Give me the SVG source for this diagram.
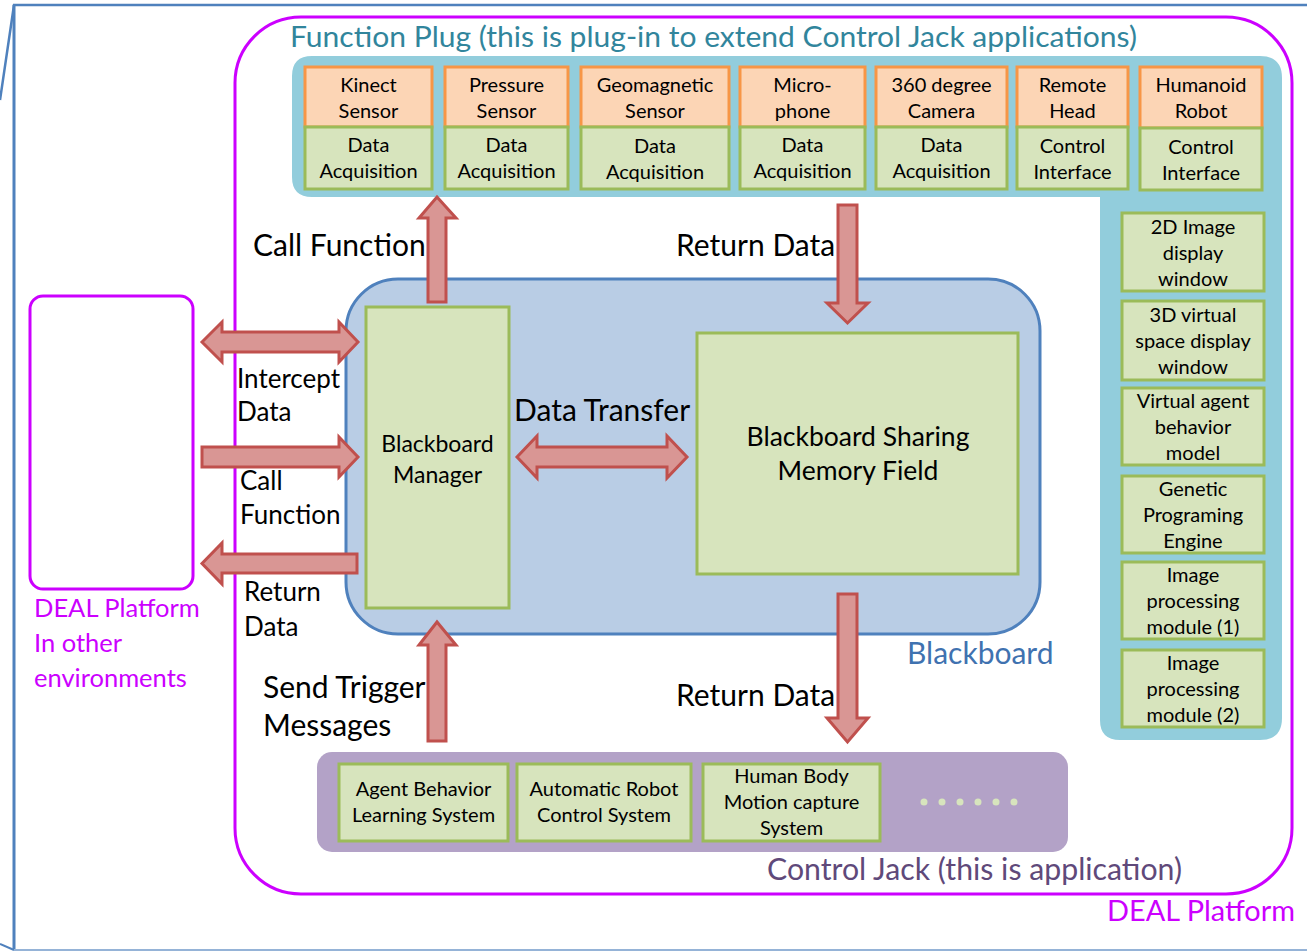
<svg xmlns="http://www.w3.org/2000/svg" width="1307" height="951" viewBox="0 0 1307 951">
  <style>
    text { font-family: Lato, "Open Sans", "Liberation Sans", sans-serif; fill: #000; }
    .c { text-anchor: middle; }
    .box { font-size: 20px; }
    .lbl { font-size: 30px; }
    .side { font-size: 26px; }
    .sensor { fill: #FCD5B5; stroke: #F79646; stroke-width: 3; }
    .mod { fill: #D7E4BD; stroke: #9BBB59; stroke-width: 3; }
    .arrow { fill: #D99694; stroke: #C0504D; stroke-width: 3; stroke-linejoin: miter; }
    .deal { fill: none; stroke: #CC00FF; stroke-width: 3; }
    .magenta { fill: #CC00FF; }
  </style>

  <!-- page frame -->
  <g id="frame" fill="none">
    <path d="M0,100 L14,5 H1307" stroke="#4F81BD" stroke-width="2.5"/>
    <path d="M14,5 V950" stroke="#4F81BD" stroke-width="3"/>
    <path d="M0,944 L14,950" stroke="#4F81BD" stroke-width="2"/>
    <path d="M14,950 H1307" stroke="#95B3D7" stroke-width="2"/>
  </g>

  <!-- DEAL platform boundary -->
  <g id="deal-platform">
    <rect class="deal" x="235" y="17" width="1057" height="877" rx="66"/>
    <text class="magenta" x="1107" y="921" font-size="29" textLength="188" lengthAdjust="spacingAndGlyphs">DEAL Platform</text>
  </g>

  <!-- function plug panel -->
  <g id="function-plug">
    <text x="290" y="47" font-size="28" style="fill:#31859C" textLength="847" lengthAdjust="spacingAndGlyphs">Function Plug (this is plug-in to extend Control Jack applications)</text>
    <path d="M312,56 H1260 Q1282,56 1282,78 V718 Q1282,740 1260,740 H1120 Q1100,740 1100,720 V197 H312 Q292,197 292,177 V76 Q292,56 312,56 Z" fill="#92CDDC"/>
  </g>

  <g id="kinect">
    <rect class="sensor" x="305" y="67" width="127" height="60"/>
    <rect class="mod" x="305" y="127" width="127" height="62"/>
    <text class="box c" x="368.5" y="92">Kinect</text>
    <text class="box c" x="368.5" y="118">Sensor</text>
    <text class="box c" x="368.5" y="152">Data</text>
    <text class="box c" x="368.5" y="178">Acquisition</text>
  </g>
  <g id="pressure">
    <rect class="sensor" x="445" y="67" width="123" height="60"/>
    <rect class="mod" x="445" y="127" width="123" height="62"/>
    <text class="box c" x="506.5" y="92">Pressure</text>
    <text class="box c" x="506.5" y="118">Sensor</text>
    <text class="box c" x="506.5" y="152">Data</text>
    <text class="box c" x="506.5" y="178">Acquisition</text>
  </g>
  <g id="geomagnetic">
    <rect class="sensor" x="581" y="67" width="148" height="60"/>
    <rect class="mod" x="581" y="127" width="148" height="62"/>
    <text class="box c" x="655" y="92">Geomagnetic</text>
    <text class="box c" x="655" y="118">Sensor</text>
    <text class="box c" x="655" y="153">Data</text>
    <text class="box c" x="655" y="179">Acquisition</text>
  </g>
  <g id="microphone">
    <rect class="sensor" x="740" y="67" width="125" height="60"/>
    <rect class="mod" x="740" y="127" width="125" height="62"/>
    <text class="box c" x="802.5" y="92">Micro-</text>
    <text class="box c" x="802.5" y="118">phone</text>
    <text class="box c" x="802.5" y="152">Data</text>
    <text class="box c" x="802.5" y="178">Acquisition</text>
  </g>
  <g id="camera-360">
    <rect class="sensor" x="876" y="67" width="131" height="60"/>
    <rect class="mod" x="876" y="127" width="131" height="62"/>
    <text class="box c" x="941.5" y="92">360 degree</text>
    <text class="box c" x="941.5" y="118">Camera</text>
    <text class="box c" x="941.5" y="152">Data</text>
    <text class="box c" x="941.5" y="178">Acquisition</text>
  </g>
  <g id="remote-head">
    <rect class="sensor" x="1017" y="67" width="111" height="60"/>
    <rect class="mod" x="1017" y="127" width="111" height="62"/>
    <text class="box c" x="1072.5" y="92">Remote</text>
    <text class="box c" x="1072.5" y="118">Head</text>
    <text class="box c" x="1072.5" y="153">Control</text>
    <text class="box c" x="1072.5" y="179">Interface</text>
  </g>
  <g id="humanoid-robot">
    <rect class="sensor" x="1140" y="67" width="122" height="61"/>
    <rect class="mod" x="1140" y="128" width="122" height="62"/>
    <text class="box c" x="1201" y="92">Humanoid</text>
    <text class="box c" x="1201" y="118">Robot</text>
    <text class="box c" x="1201" y="154">Control</text>
    <text class="box c" x="1201" y="180">Interface</text>
  </g>

  <!-- right column modules -->
  <g id="display-2d">
    <rect class="mod" x="1122" y="213" width="142" height="78"/>
    <text class="box c" x="1193" y="234">2D Image</text>
    <text class="box c" x="1193" y="260">display</text>
    <text class="box c" x="1193" y="286">window</text>
  </g>
  <g id="display-3d">
    <rect class="mod" x="1122" y="301" width="142" height="79"/>
    <text class="box c" x="1193" y="322">3D virtual</text>
    <text class="box c" x="1193" y="348">space display</text>
    <text class="box c" x="1193" y="374">window</text>
  </g>
  <g id="agent-model">
    <rect class="mod" x="1122" y="388" width="142" height="77"/>
    <text class="box c" x="1193" y="408">Virtual agent</text>
    <text class="box c" x="1193" y="434">behavior</text>
    <text class="box c" x="1193" y="460">model</text>
  </g>
  <g id="genetic-engine">
    <rect class="mod" x="1122" y="476" width="142" height="77"/>
    <text class="box c" x="1193" y="496">Genetic</text>
    <text class="box c" x="1193" y="522">Programing</text>
    <text class="box c" x="1193" y="548">Engine</text>
  </g>
  <g id="image-proc-1">
    <rect class="mod" x="1122" y="562" width="142" height="77"/>
    <text class="box c" x="1193" y="582">Image</text>
    <text class="box c" x="1193" y="608">processing</text>
    <text class="box c" x="1193" y="634">module (1)</text>
  </g>
  <g id="image-proc-2">
    <rect class="mod" x="1122" y="650" width="142" height="77"/>
    <text class="box c" x="1193" y="670">Image</text>
    <text class="box c" x="1193" y="696">processing</text>
    <text class="box c" x="1193" y="722">module (2)</text>
  </g>

  <!-- blackboard -->
  <g id="blackboard">
    <rect x="346" y="279" width="694" height="355" rx="52" fill="#B9CDE5" stroke="#4F81BD" stroke-width="3"/>
    <text x="907" y="664" font-size="30" style="fill:#3F72B0">Blackboard</text>
  </g>
  <g id="blackboard-manager">
    <rect class="mod" x="366" y="307" width="143" height="301"/>
    <text class="c" x="437.5" y="452" font-size="23">Blackboard</text>
    <text class="c" x="437.5" y="483" font-size="23">Manager</text>
  </g>
  <g id="sharing-memory">
    <rect class="mod" x="697" y="333" width="321" height="241"/>
    <text class="c" x="858" y="446" font-size="26.5">Blackboard Sharing</text>
    <text class="c" x="858" y="480" font-size="26.5">Memory Field</text>
  </g>

  <!-- other-environment platform -->
  <g id="deal-other">
    <rect class="deal" x="30" y="296" width="163" height="293" rx="13"/>
    <text class="magenta" x="34" y="617" font-size="25.5">DEAL Platform</text>
    <text class="magenta" x="34" y="652" font-size="25.5">In other</text>
    <text class="magenta" x="34" y="687" font-size="25.5">environments</text>
  </g>

  <!-- control jack panel -->
  <g id="control-jack">
    <rect x="317" y="752" width="751" height="100" rx="15" fill="#B3A2C7"/>
    <text x="767" y="880" font-size="30" style="fill:#5F497A" textLength="415" lengthAdjust="spacingAndGlyphs">Control Jack (this is application)</text>
    <g fill="#D7E4BD">
      <circle cx="924" cy="802" r="3.5"/>
      <circle cx="942" cy="802" r="3.5"/>
      <circle cx="960" cy="802" r="3.5"/>
      <circle cx="978" cy="802" r="3.5"/>
      <circle cx="996" cy="802" r="3.5"/>
      <circle cx="1014" cy="802" r="3.5"/>
    </g>
  </g>
  <g id="agent-learning">
    <rect class="mod" x="339" y="764" width="169" height="77"/>
    <text class="box c" x="423.5" y="796">Agent Behavior</text>
    <text class="box c" x="423.5" y="822">Learning System</text>
  </g>
  <g id="robot-control">
    <rect class="mod" x="517" y="764" width="174" height="77"/>
    <text class="box c" x="604" y="796">Automatic Robot</text>
    <text class="box c" x="604" y="822">Control System</text>
  </g>
  <g id="motion-capture">
    <rect class="mod" x="703" y="764" width="177" height="77"/>
    <text class="box c" x="791.5" y="783">Human Body</text>
    <text class="box c" x="791.5" y="809">Motion capture</text>
    <text class="box c" x="791.5" y="835">System</text>
  </g>

  <!-- connectors -->
  <g id="connectors">
    <path class="arrow" d="M428,302 L428,218 L419,218 L437,197 L456,218 L446,218 L446,302 Z"/>
    <path class="arrow" d="M838,205 L857,205 L857,303 L868,303 L847.5,323 L827,303 L838,303 Z"/>
    <path class="arrow" d="M517,457 L537,436 L537,447 L667,447 L667,436 L687,457 L667,478 L667,467 L537,467 L537,478 Z"/>
    <path class="arrow" d="M202,342 L222,322 L222,332 L339,332 L339,322 L358,342 L339,362 L339,352 L222,352 L222,362 Z"/>
    <path class="arrow" d="M202,447 L339,447 L339,437 L358,457 L339,477 L339,467 L202,467 Z"/>
    <path class="arrow" d="M357,554 L357,573 L222,573 L222,584 L202,563.5 L222,543 L222,554 Z"/>
    <path class="arrow" d="M428,741 L428,645 L419,645 L437,622 L456,645 L446,645 L446,741 Z"/>
    <path class="arrow" d="M838,594 L857,594 L857,718 L868,718 L847.5,742 L827,718 L838,718 Z"/>

    <text class="lbl" x="253" y="256">Call Function</text>
    <text class="lbl" x="676" y="256">Return Data</text>
    <text class="lbl" x="514" y="421">Data Transfer</text>
    <text class="side" x="237" y="388">Intercept</text>
    <text class="side" x="237" y="421">Data</text>
    <text class="side" x="240" y="490">Call</text>
    <text class="side" x="240" y="524">Function</text>
    <text class="side" x="244" y="601">Return</text>
    <text class="side" x="244" y="636">Data</text>
    <text class="lbl" x="263" y="698">Send Trigger</text>
    <text class="lbl" x="263" y="736">Messages</text>
    <text class="lbl" x="676" y="706">Return Data</text>
  </g>
</svg>
